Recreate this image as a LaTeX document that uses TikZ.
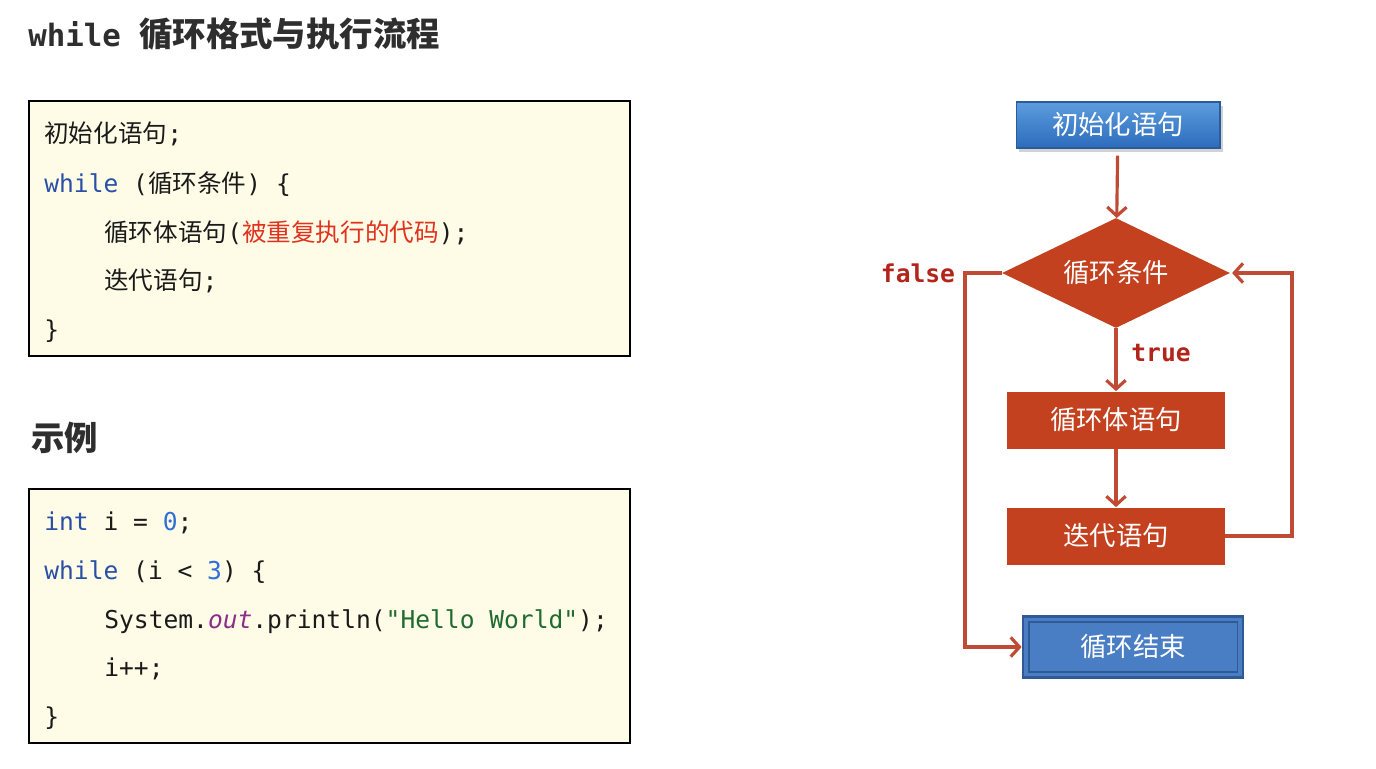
\documentclass[tikz,border=0pt]{standalone}
\usepackage{fontspec}
\setmonofont{DejaVu Sans Mono}
\newfontfamily\cjk{Noto Sans CJK SC}
\usetikzlibrary{arrows.meta,shapes.geometric,shadows}
\definecolor{pagebg}{HTML}{FFFFFF}
\definecolor{titlefg}{HTML}{2E2E2E}
\definecolor{codefg}{HTML}{1A1A1A}
\definecolor{codebg}{HTML}{FEFCE6}
\definecolor{kwblue}{HTML}{2A4FA6}
\definecolor{numblue}{HTML}{2F6FD6}
\definecolor{fieldpurple}{HTML}{8A2E8A}
\definecolor{strgreen}{HTML}{1F6B30}
\definecolor{notered}{HTML}{E0321E}
\definecolor{flowred}{HTML}{C4411F}
\definecolor{arrowred}{HTML}{C04B35}
\definecolor{labelred}{HTML}{B3251B}
\definecolor{inittop}{HTML}{5C9CDD}
\definecolor{initbot}{HTML}{2C6CBC}
\definecolor{initborder}{HTML}{2A5C9C}
\definecolor{endblue}{HTML}{4A7EC4}
\definecolor{endborder}{HTML}{2F5A96}
\newcommand{\cn}[1]{{\cjk #1}}
\newcommand{\kw}[1]{\textcolor{kwblue}{#1}}
\newcommand{\num}[1]{\textcolor{numblue}{#1}}

\tikzset{
  codebox/.style={fill=codebg, draw=black, line width=1.1pt},
  codeline/.style={anchor=west, inner sep=0pt, text height=11pt, text depth=3pt,
    text=codefg, font=\ttfamily\fontsize{14}{16}\selectfont},
  heading/.style={anchor=west, inner sep=0pt, text=titlefg},
  flowtext/.style={text=white, font=\cjk\fontsize{15}{18}\selectfont},
  initbox/.style={flowtext, rectangle, minimum width=4.08cm, minimum height=0.92cm,
    top color=inittop, bottom color=initbot, draw=initborder, line width=0.6pt,
    drop shadow={opacity=0.35, shadow xshift=1.5pt, shadow yshift=-2pt}},
  condbox/.style={flowtext, diamond, aspect=2, minimum width=4.56cm, minimum height=2.2cm,
    inner sep=0pt, fill=flowred},
  stepbox/.style={flowtext, rectangle, minimum width=4.36cm, minimum height=1.14cm, fill=flowred},
  endbox/.style={flowtext, rectangle, minimum width=4.4cm, minimum height=1.22cm,
    fill=endblue, draw=endborder, line width=1.6pt},
  flow/.style={draw=arrowred, line width=1.8pt, -{Straight Barb[length=5pt,width=11pt]}},
  flowlabel/.style={inner sep=0pt, text=labelred, font=\ttfamily\bfseries\fontsize{14}{16}\selectfont}
}

\begin{document}
\begin{tikzpicture}[
  x=0.02cm,
  y=-0.02cm,
  line join=miter
]
  \useasboundingbox[fill=pagebg] (0,0) rectangle (1376,768);

  % title
  \node[heading, font=\ttfamily\bfseries\fontsize{17.5}{20}\selectfont] (title) at (28,34)
    {while {\cjk\fontsize{19}{20}\selectfont 循环格式与执行流程}};

  % format
  \draw[codebox] (29,101) rectangle (630,356);
  \node[codeline] (f1) at (44,135)  {\cn{初始化语句};};
  \node[codeline] (f2) at (44,185)  {\kw{while} (\cn{循环条件}) \{};
  \node[codeline] (f3) at (104,234) {\cn{循环体语句}(\textcolor{notered}{\cn{被重复执行的代码}});};
  \node[codeline] (f4) at (104,282) {\cn{迭代语句};};
  \node[codeline] (f5) at (44,331)  {\}};

  % example
  \node[heading, font=\cjk\bfseries\fontsize{19}{20}\selectfont] (extitle) at (31,438) {示例};
  \draw[codebox] (29,489) rectangle (630,743);
  \node[codeline] (e1) at (44,523)  {\kw{int} i = \num{0};};
  \node[codeline] (e2) at (44,572)  {\kw{while} (i < \num{3}) \{};
  \node[codeline] (e3) at (104,621) {System.\textcolor{fieldpurple}{\itshape out}.println(\textcolor{strgreen}{"Hello World"});};
  \node[codeline] (e4) at (104,669) {i++;};
  \node[codeline] (e5) at (44,718)  {\}};

  % flow chart
  \node[initbox] (init) at (1118,125) {初始化语句};
  \node[condbox] (cond) at (1116,273) {循环条件};
  \node[stepbox] (body) at (1116,420) {循环体语句};
  \node[stepbox] (iter) at (1116,536) {迭代语句};
  \node[endbox] (done) at (1133,647) {循环结束};
  \draw[endborder, line width=1pt]
    ([shift={(0.14cm,-0.14cm)}]done.north west) rectangle ([shift={(-0.14cm,0.14cm)}]done.south east);

  \coordinate (rloop) at (1292,273);
  \coordinate (lloop) at (965,273);

  \draw[flow, shorten <=4pt] (init) -- (cond);
  \draw[flow] (cond) -- (body);
  \draw[flow] (body) -- (iter);
  \draw[flow, shorten >=1pt] (iter.east) -| (rloop) -- (cond.east);
  \draw[flow] (cond.west) -- (lloop) |- (done.west);

  \node[flowlabel] (truelbl) at (1161,353) {true};
  \node[flowlabel] (falselbl) at (918,273) {false};
\end{tikzpicture}
\end{document}
